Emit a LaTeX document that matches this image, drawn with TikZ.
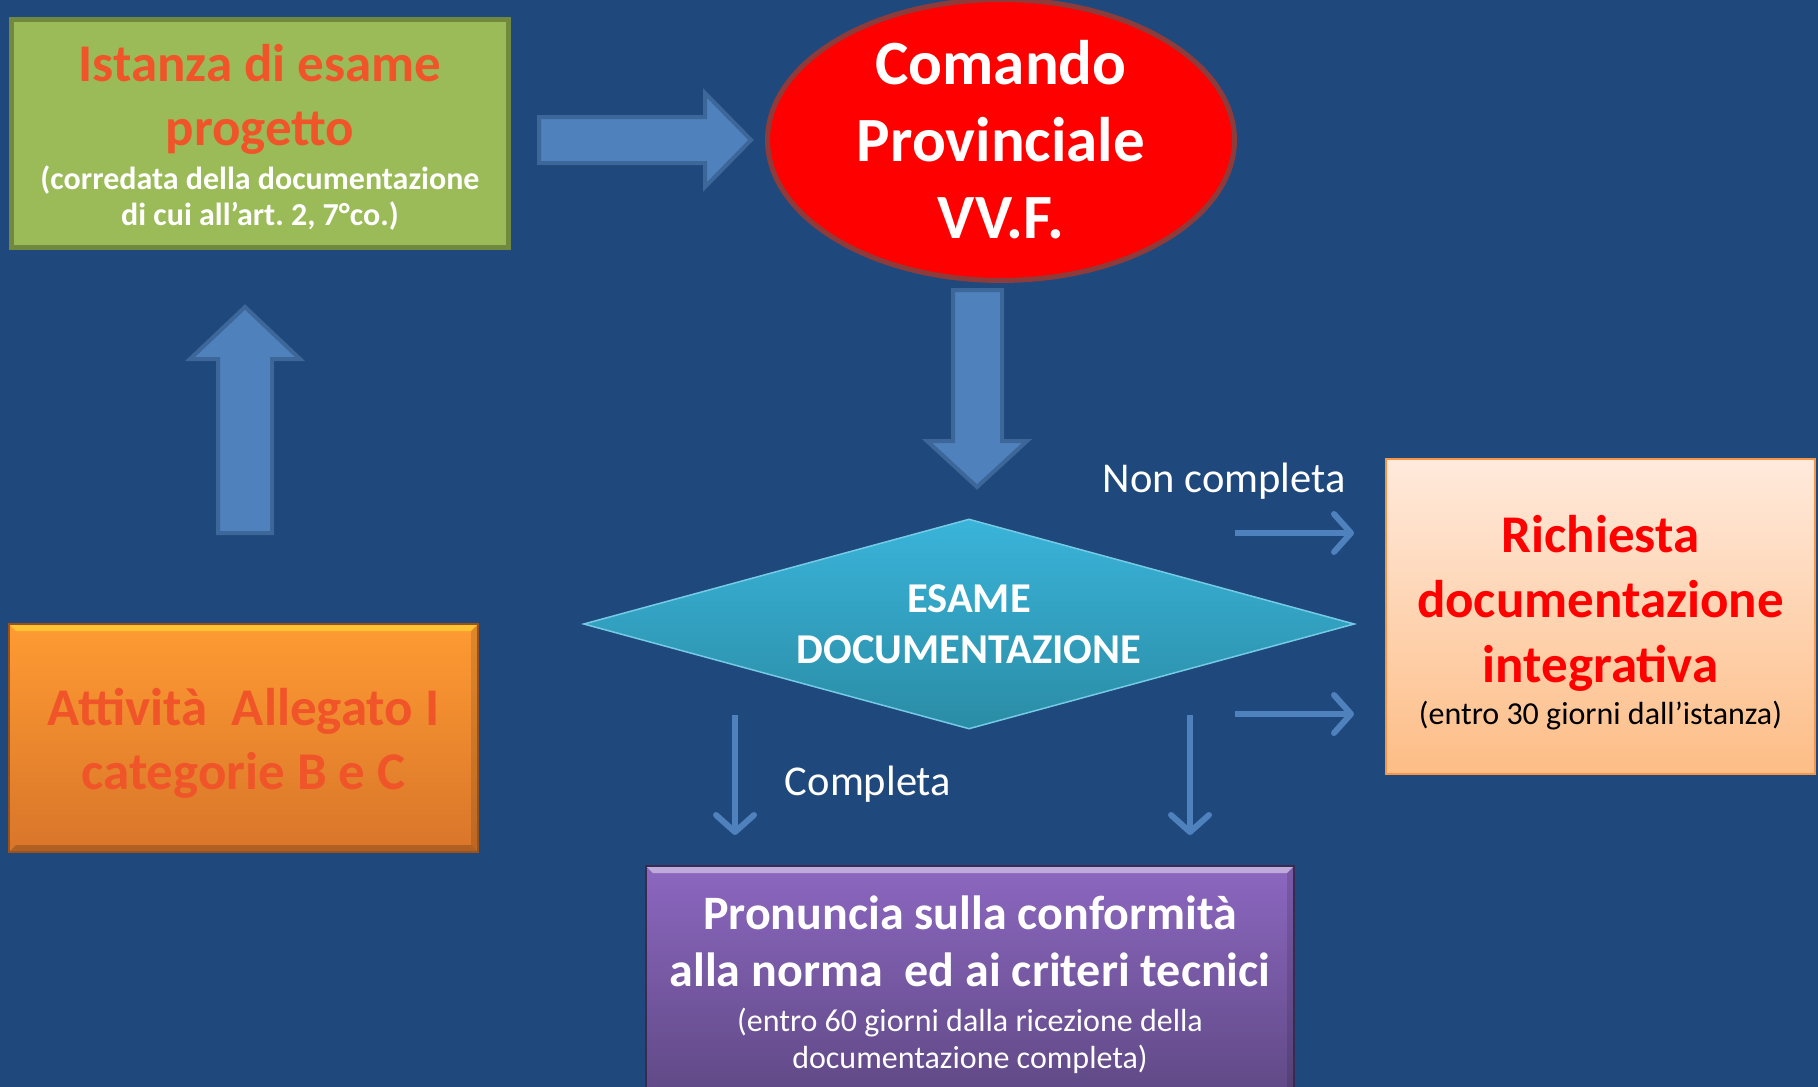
\documentclass[tikz,border=0pt]{standalone}
\usepackage{fontspec}
\setmainfont{Carlito}
\frenchspacing
\usetikzlibrary{arrows.meta,positioning,shapes.geometric}
\definecolor{bgblue}{HTML}{1F497D}
\definecolor{arrblue}{HTML}{4F81BD}
\definecolor{arredge}{HTML}{3D6699}
\definecolor{grfill}{HTML}{9BBB59}
\definecolor{grline}{HTML}{71893F}
\definecolor{txtorange}{HTML}{F0552A}
\definecolor{elline}{HTML}{8E3B3B}
\definecolor{cyantop}{HTML}{3AB4DA}
\definecolor{cyanbot}{HTML}{2A8CA5}
\definecolor{peachtop}{HTML}{FFEADC}
\definecolor{peachbot}{HTML}{FDBD86}
\definecolor{peachline}{HTML}{F79646}
\definecolor{orgtop}{HTML}{FF9B32}
\definecolor{orgbot}{HTML}{D8752A}
\definecolor{purtop}{HTML}{8C67C0}
\definecolor{purbot}{HTML}{5E4883}
\newcommand{\notefont}[1]{\fontsize{#1}{#1}\selectfont}
\tikzset{
  box/.style={rectangle, inner sep=0pt, align=center},
  txt/.style={inner sep=0pt, align=center},
  bevel/.style={path picture={
      \fill[#1, opacity=.45] (path picture bounding box.north west) -- (path picture bounding box.north east)
        -- ([xshift=-7pt,yshift=-7pt]path picture bounding box.north east) -- ([xshift=7pt,yshift=-7pt]path picture bounding box.north west) -- cycle;
      \fill[black, opacity=.18] (path picture bounding box.south west) -- (path picture bounding box.south east)
        -- ([xshift=-7pt,yshift=7pt]path picture bounding box.south east) -- ([xshift=7pt,yshift=7pt]path picture bounding box.south west) -- cycle;
      \fill[black, opacity=.12] (path picture bounding box.north east) -- (path picture bounding box.south east)
        -- ([xshift=-7pt,yshift=7pt]path picture bounding box.south east) -- ([xshift=-7pt,yshift=-7pt]path picture bounding box.north east) -- cycle;}},
  bigarrow/.style={fill=arrblue, draw=arredge, line width=4pt, line join=miter},
  thinarrow/.style={arrblue, line width=6pt, -{Straight Barb[length=17pt,width=38pt,round]}},
  lbl/.style={text=white, font=\fontsize{42.5}{50}\selectfont}
}

\begin{document}
\begin{tikzpicture}[x=1pt,y=-1pt]
  \clip (0,0) rectangle (1818,1087);
  \fill[bgblue] (0,0) rectangle (1818,1087);

  % --- boxes ---
  \node[box, fill=grfill, draw=grline, line width=5pt, minimum width=497pt, minimum height=228pt] (istanza) at (260,133.5) {};
  \node[txt, text=txtorange, font=\fontsize{53}{64}\selectfont\bfseries] (istanzatxt) at ([yshift=-3.5pt]istanza.center)
    {Istanza di esame\\ progetto\\[-20pt]
     \notefont{32}\color{white}(corredata della documentazione\\[-28pt]
     \notefont{32}\color{white}di cui all'art. 2, 7°co.)};
  \node[ellipse, fill=red, draw=elline, line width=5pt, minimum width=467pt, minimum height=269pt, inner sep=0pt,
    align=center, text=white, font=\fontsize{63}{77}\selectfont\bfseries] (comando) at (1001,140)
    {Comando\\ Provinciale\\ VV.F.};
  \node[diamond, aspect=3.67, top color=cyantop, bottom color=cyanbot, draw=cyantop!70!white, line width=1.5pt,
    minimum width=771pt, minimum height=210pt, inner sep=0pt, align=center, text=white,
    font=\fontsize{42.5}{51}\selectfont\bfseries] (esame) at (969,624) {ESAME\\ DOCUMENTAZIONE};
  \node[box, top color=peachtop, bottom color=peachbot, draw=peachline, line width=2.5pt, minimum width=429pt,
    minimum height=315pt] (richiesta) at (1600.5,616.5) {};
  \node[txt, text=red, font=\fontsize{53}{65}\selectfont\bfseries] (richiestatxt) at ([yshift=-6pt]richiesta.center)
    {Richiesta\\ documentazione\\ integrativa\\[-23pt]
     \notefont{32}\mdseries\color{black}(entro 30 giorni dall'istanza)};
  \node[box, bevel=yellow!80!white, top color=orgtop, bottom color=orgbot, draw=orgbot!70!black, line width=1.5pt,
    minimum width=469pt, minimum height=228pt] (attivita) at (243.5,738) {};
  \node[txt, text=txtorange, font=\fontsize{53}{64}\selectfont\bfseries] (attivitatxt) at ([yshift=-5pt]attivita.center)
    {Attività\ \ Allegato I\\ categorie B e C};
  \node[box, bevel=white, top color=purtop, bottom color=purbot, draw=purbot!60!black, line width=1.5pt, minimum width=648pt,
    minimum height=238pt, text=white, font=\fontsize{48}{57}\selectfont\bfseries] (pronuncia) at (970,985)
    {Pronuncia sulla conformità\\ alla norma\hspace{22pt}ed ai criteri tecnici\\[-12pt]
     \notefont{32}\mdseries(entro 60 giorni dalla ricezione della\\[-20pt]
     \notefont{32}\mdseries documentazione completa)};

  % --- block arrows ---
  \draw[bigarrow] (539,117) -- (705,117) -- (705,93) -- (751,140) -- (705,187) -- (705,163) -- (539,163) -- cycle;
  \draw[bigarrow] (953,290) -- (1002,290) -- (1002,441) -- (1027,441) -- (977,487) -- (927,441) -- (953,441) -- cycle;
  \draw[bigarrow] (218,533) -- (218,359) -- (190,359) -- (245,307) -- (300,359) -- (272,359) -- (272,533) -- cycle;

  % --- thin arrows ---
  \coordinate (nc1) at (1235,533);
  \coordinate (nc1e) at (1354,533);
  \coordinate (nc2) at (1235,714);
  \coordinate (nc2e) at (1354,714);
  \coordinate (co1) at (735,715);
  \coordinate (co1e) at (735,835);
  \coordinate (co2) at (1190,715);
  \coordinate (co2e) at (1190,835);
  \foreach \u/\v in {nc1/nc1e, nc2/nc2e, co1/co1e, co2/co2e}
    \draw[thinarrow] (\u) -- (\v);

  \node[lbl] (noncompl) at (1224,481) {Non completa};
  \node[lbl] (compl) at (868,784) {Completa};
\end{tikzpicture}
\end{document}
